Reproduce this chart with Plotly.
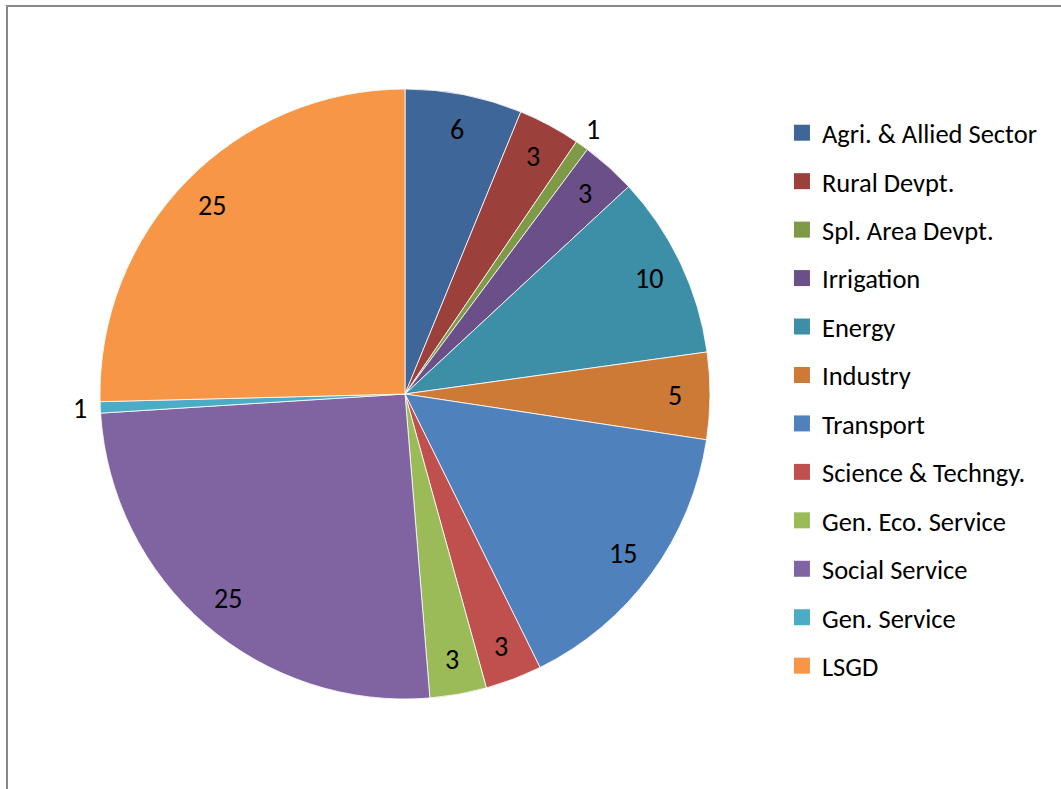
import math
import plotly.graph_objects as go

categories = ["Agri. & Allied Sector", "Rural Devpt.", "Spl. Area Devpt.", "Irrigation",
              "Energy", "Industry", "Transport", "Science & Techngy.", "Gen. Eco. Service",
              "Social Service", "Gen. Service", "LSGD"]
values = [6.2, 3.3, 0.7, 2.9, 9.7, 4.6, 15.3, 3.0, 3.0, 25.3, 0.6, 25.4]
colors = ["#3F6698", "#9C403C", "#7F9A47", "#6A4F89", "#3C8FA6", "#CD7A37",
          "#4F81BD", "#C0504D", "#9BBB59", "#8064A2", "#4BACC6", "#F79646"]

FONT = "Carlito, Calibri, Lato, sans-serif"
W, H = 1061, 789
CX, CY, R = 405, 394, 305  # pie centre / radius in pixels (layout)

fig = go.Figure()
fig.add_trace(go.Pie(
    labels=categories, values=values, sort=False, direction="clockwise", rotation=0,
    marker=dict(colors=colors, line=dict(color="white", width=0.8)),
    textinfo="none", showlegend=False, hoverinfo="label+value",
    domain=dict(x=[(CX - R) / W, (CX + R) / W], y=[1 - (CY + R) / H, 1 - (CY - R) / H]),
))

# data labels placed along each slice's bisector (derived from the values)
annotations = []
total = sum(values)
cum = 0.0
for v in values:
    mid = (cum + v / 2) / total * 2 * math.pi
    cum += v
    d = 0.885 * R if v >= 1 else 1.065 * R
    annotations.append(dict(
        x=(CX + d * math.sin(mid)) / W, y=1 - (CY - d * math.cos(mid)) / H,
        xref="paper", yref="paper", xanchor="center", yanchor="middle",
        text=f"{round(v):d}", showarrow=False,
        font=dict(family=FONT, size=28, color="black")))

for name, c in zip(categories, colors):
    fig.add_trace(go.Scatter(x=[None], y=[None], mode="markers", name=name,
                             legendgroup=name,
                             marker=dict(symbol="square", size=16, color=c)))

fig.update_layout(
    width=W, height=H, margin=dict(l=0, r=0, t=0, b=0),
    paper_bgcolor="white", plot_bgcolor="white",
    xaxis=dict(visible=False), yaxis=dict(visible=False),
    legend=dict(x=0.737, y=1 - 109 / H, xanchor="left", yanchor="top",
                font=dict(family=FONT, size=26.5, color="black"),
                tracegroupgap=11, traceorder="grouped", itemsizing="trace",
                bgcolor="rgba(0,0,0,0)"),
    annotations=annotations,
    shapes=[dict(type="rect", xref="paper", yref="paper",
                 x0=7 / W, x1=1.2, y0=-0.2, y1=1 - 6 / H,
                 line=dict(color="#888888", width=2), fillcolor="rgba(0,0,0,0)")],
)
fig.write_html("out.html", config={"displayModeBar": False},
               post_script="document.body.style.margin='0';document.body.style.padding='0';")
